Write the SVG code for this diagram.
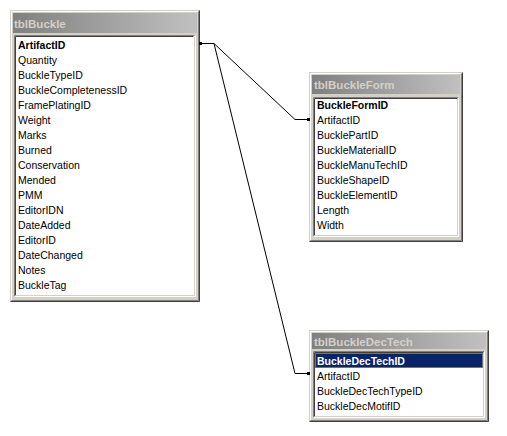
<svg xmlns="http://www.w3.org/2000/svg" width="507" height="436" viewBox="0 0 507 436">
<defs>
<linearGradient id="tg" x1="0" y1="0" x2="1" y2="0">
<stop offset="0" stop-color="#808080"/>
<stop offset="1" stop-color="#c0c0c0"/>
</linearGradient>
<style>
.frame{fill:#d4d0c8}
.title{fill:url(#tg)}
.tt{font-family:"Liberation Sans",Arial,sans-serif;font-size:11.5px;font-weight:bold;fill:#d4d0c8}
.row{font-family:"Liberation Sans",Arial,sans-serif;font-size:10.5px;fill:#000}
.key{font-weight:bold}
.sel{fill:#fff;font-weight:bold}
.dk{stroke:#404040;stroke-width:1;fill:none}
.md{stroke:#808080;stroke-width:1;fill:none}
.wh{stroke:#fff;stroke-width:1;fill:none}
.lt{stroke:#d4d0c8;stroke-width:1;fill:none}
.conn{stroke:#000;stroke-width:1;fill:none}
</style>
</defs>
<rect width="507" height="436" fill="#fff"/>

<g id="tblBuckle">
<rect class="frame" x="10" y="10" width="190" height="292"/>
<path class="wh" d="M11.5,300.5 V11.5 H198.5"/>
<path class="md" d="M11.5,300.5 H198.5 V11.5"/>
<path class="dk" d="M10.5,301.5 H199.5 V10.5"/>
<rect class="title" x="13" y="13" width="184" height="20"/>
<text class="tt" x="14" y="27.5">tblBuckle</text>
<rect x="14" y="35" width="181" height="262" fill="#fff"/>
<path class="md" d="M14.5,296.5 V35.5 H194.5"/>
<path class="dk" d="M15.5,295.5 V36.5 H193.5"/>
<path class="wh" d="M14.5,296.5 H195.5 V35.5"/>
<path class="lt" d="M15.5,295.5 H194.5 V36.5"/>
<text class="row key" x="18" y="49">ArtifactID</text>
<text class="row" x="18" y="64">Quantity</text>
<text class="row" x="18" y="79">BuckleTypeID</text>
<text class="row" x="18" y="94">BuckleCompletenessID</text>
<text class="row" x="18" y="109">FramePlatingID</text>
<text class="row" x="18" y="124">Weight</text>
<text class="row" x="18" y="139">Marks</text>
<text class="row" x="18" y="154">Burned</text>
<text class="row" x="18" y="169">Conservation</text>
<text class="row" x="18" y="184">Mended</text>
<text class="row" x="18" y="199">PMM</text>
<text class="row" x="18" y="214">EditorIDN</text>
<text class="row" x="18" y="229">DateAdded</text>
<text class="row" x="18" y="244">EditorID</text>
<text class="row" x="18" y="259">DateChanged</text>
<text class="row" x="18" y="274">Notes</text>
<text class="row" x="18" y="289">BuckleTag</text>
</g>

<g id="tblBuckleForm">
<rect class="frame" x="309" y="72" width="154" height="170"/>
<path class="wh" d="M310.5,240.5 V73.5 H461.5"/>
<path class="md" d="M310.5,240.5 H461.5 V73.5"/>
<path class="dk" d="M309.5,241.5 H462.5 V72.5"/>
<rect class="title" x="312" y="75" width="148" height="19"/>
<text class="tt" x="314" y="89">tblBuckleForm</text>
<rect x="313" y="97" width="146" height="140" fill="#fff"/>
<path class="md" d="M313.5,236.5 V97.5 H458.5"/>
<path class="dk" d="M314.5,235.5 V98.5 H457.5"/>
<path class="wh" d="M313.5,236.5 H458.5 V97.5"/>
<path class="lt" d="M314.5,235.5 H457.5 V98.5"/>
<text class="row key" x="317" y="109">BuckleFormID</text>
<text class="row" x="317" y="124">ArtifactID</text>
<text class="row" x="317" y="139">BucklePartID</text>
<text class="row" x="317" y="154">BuckleMaterialID</text>
<text class="row" x="317" y="169">BuckleManuTechID</text>
<text class="row" x="317" y="184">BuckleShapeID</text>
<text class="row" x="317" y="199">BuckleElementID</text>
<text class="row" x="317" y="214">Length</text>
<text class="row" x="317" y="229">Width</text>
</g>

<g id="tblBuckleDecTech">
<rect class="frame" x="309" y="330" width="180" height="92"/>
<path class="wh" d="M310.5,420.5 V331.5 H487.5"/>
<path class="md" d="M310.5,420.5 H487.5 V331.5"/>
<path class="dk" d="M309.5,421.5 H488.5 V330.5"/>
<rect class="title" x="312" y="333" width="174" height="16"/>
<text class="tt" x="314" y="345.5">tblBuckleDecTech</text>
<rect x="313" y="351" width="172" height="67" fill="#fff"/>
<path class="md" d="M313.5,417.5 V351.5 H484.5"/>
<path class="dk" d="M314.5,416.5 V352.5 H483.5"/>
<path class="wh" d="M313.5,417.5 H484.5 V351.5"/>
<path class="lt" d="M314.5,416.5 H483.5 V352.5"/>
<rect x="315" y="353" width="168" height="15" fill="#0a246a"/>
<rect x="315.5" y="353.5" width="167" height="14" fill="none" stroke="#d4c870" stroke-width="1" stroke-dasharray="1,1"/>
<text class="row sel" x="317" y="365">BuckleDecTechID</text>
<text class="row" x="317" y="380">ArtifactID</text>
<text class="row" x="317" y="395">BuckleDecTechTypeID</text>
<text class="row" x="317" y="410">BuckleDecMotifID</text>
</g>

<g id="connectors">
<path class="conn" d="M200,43.5 H214 L295,119.5 H309"/>
<path class="conn" d="M214,43.5 L295,373.5 H309"/>
<rect x="199" y="42" width="3" height="3" fill="#000"/>
<rect x="307" y="118" width="3" height="3" fill="#000"/>
<rect x="307" y="372" width="3" height="3" fill="#000"/>
</g>
</svg>
